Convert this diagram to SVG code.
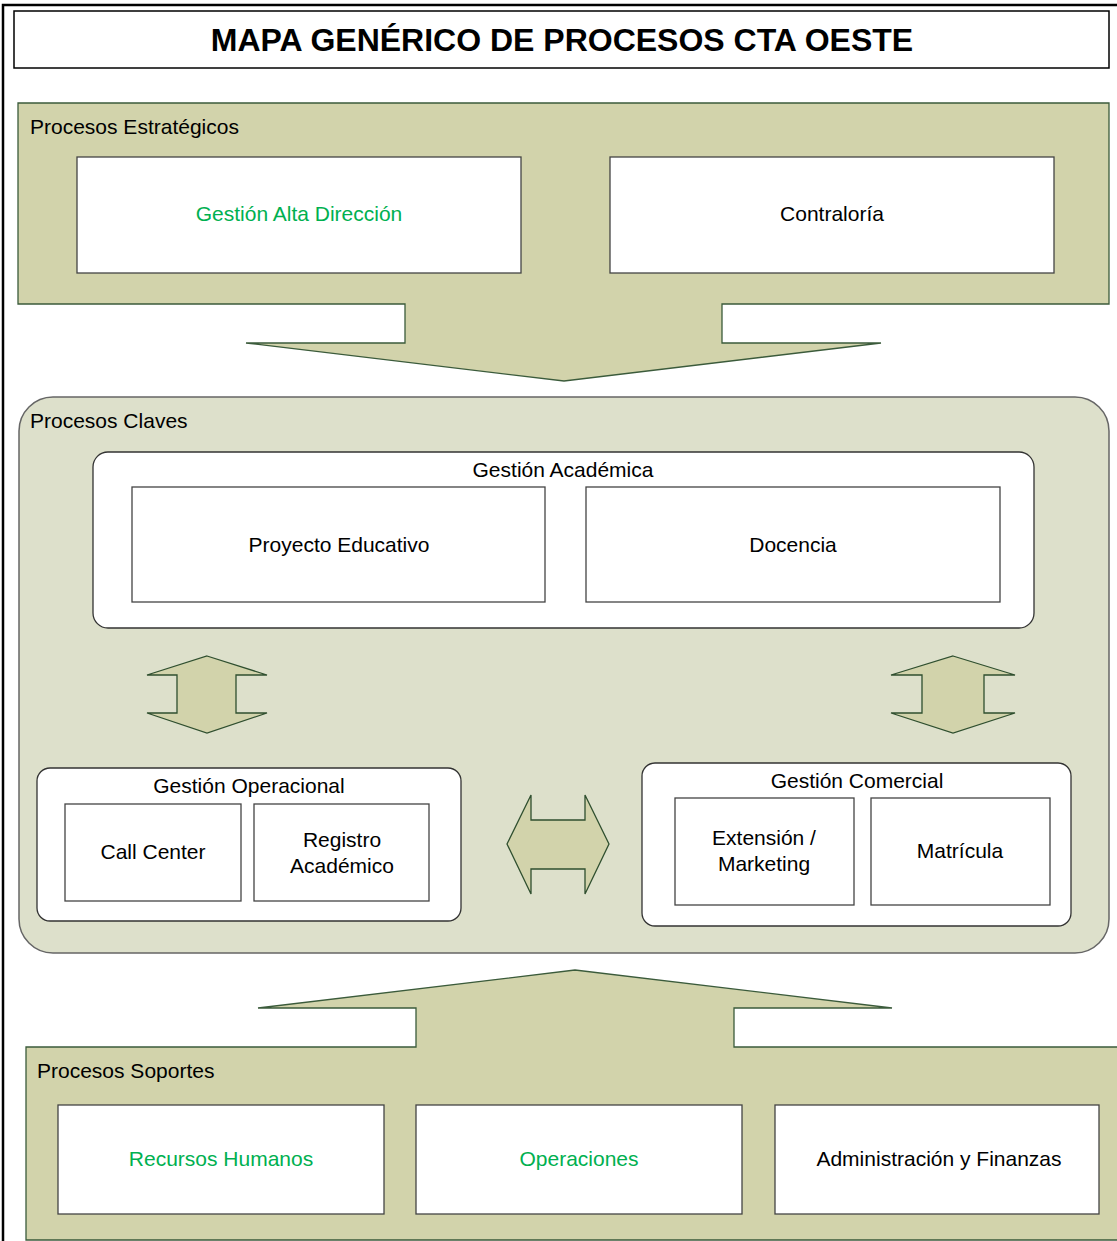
<svg xmlns="http://www.w3.org/2000/svg" width="1117" height="1241" viewBox="0 0 1117 1241">
<style>
text{font-family:"Liberation Sans",Arial,sans-serif;font-size:21px;fill:#000}
.c{text-anchor:middle}
.g{fill:#00B050}
.title{font-size:32px;font-weight:bold}
.band{fill:#D2D3AB;stroke:#3B5B3B;stroke-width:1.3}
.arr{fill:#D2D3AB;stroke:#2F4F2F;stroke-width:1.3}
.box{fill:#fff;stroke:#444;stroke-width:1.3}
.grp{fill:#fff;stroke:#333;stroke-width:1.3}
</style>
<rect x="0" y="0" width="1117" height="1241" fill="#fff"/>
<rect x="3" y="5" width="1125" height="1250" fill="none" stroke="#000" stroke-width="2.5"/>
<g id="title">
<rect x="14" y="11" width="1095" height="57" fill="#fff" stroke="#000" stroke-width="1.5"/>
<text class="c title" x="562" y="51">MAPA GENÉRICO DE PROCESOS CTA OESTE</text>
</g>
<g id="estrategicos">
<path class="band" d="M18,103 H1109 V304 H722 V343 H881 L564,381 L246,343 H405 V304 H18 Z"/>
<text x="30" y="134">Procesos Estratégicos</text>
</g>
<g id="alta-direccion">
<rect class="box" x="77" y="157" width="444" height="116"/>
<text class="c g" x="299" y="221">Gestión Alta Dirección</text>
</g>
<g id="contraloria">
<rect class="box" x="610" y="157" width="444" height="116"/>
<text class="c" x="832" y="221">Contraloría</text>
</g>
<g id="claves">
<rect x="19" y="397" width="1090" height="556" rx="34" ry="34" fill="#DDE0CB" stroke="#666" stroke-width="1.5"/>
<text x="30" y="428">Procesos Claves</text>
</g>
<g id="gestion-academica">
<rect class="grp" x="93" y="452" width="941" height="176" rx="15" ry="15"/>
<text class="c" x="563" y="477">Gestión Académica</text>
</g>
<g id="proyecto-educativo">
<rect class="box" x="132" y="487" width="413" height="115"/>
<text class="c" x="339" y="552">Proyecto Educativo</text>
</g>
<g id="docencia">
<rect class="box" x="586" y="487" width="414" height="115"/>
<text class="c" x="793" y="552">Docencia</text>
</g>
<g id="gestion-operacional">
<rect class="grp" x="37" y="768" width="424" height="153" rx="13" ry="13"/>
<text class="c" x="249" y="793">Gestión Operacional</text>
</g>
<g id="call-center">
<rect class="box" x="65" y="804" width="176" height="97"/>
<text class="c" x="153" y="859">Call Center</text>
</g>
<g id="registro-academico">
<rect class="box" x="254" y="804" width="175" height="97"/>
<text class="c" x="342" y="847">Registro</text>
<text class="c" x="342" y="873">Académico</text>
</g>
<g id="gestion-comercial">
<rect class="grp" x="642" y="763" width="429" height="163" rx="13" ry="13"/>
<text class="c" x="857" y="788">Gestión Comercial</text>
</g>
<g id="extension-marketing">
<rect class="box" x="675" y="798" width="179" height="107"/>
<text class="c" x="764" y="845">Extensión /</text>
<text class="c" x="764" y="871">Marketing</text>
</g>
<g id="matricula">
<rect class="box" x="871" y="798" width="179" height="107"/>
<text class="c" x="960" y="858">Matrícula</text>
</g>
<g id="soportes">
<path class="band" d="M26,1047 H416 V1008 H258 L575,970 L892,1008 H734 V1047 H1125 V1240 H26 Z"/>
<text x="37" y="1078">Procesos Soportes</text>
</g>
<g id="recursos-humanos">
<rect class="box" x="58" y="1105" width="326" height="109"/>
<text class="c g" x="221" y="1166">Recursos Humanos</text>
</g>
<g id="operaciones">
<rect class="box" x="416" y="1105" width="326" height="109"/>
<text class="c g" x="579" y="1166">Operaciones</text>
</g>
<g id="administracion">
<rect class="box" x="775" y="1105" width="324" height="109"/>
<text class="c" x="939" y="1166">Administración y Finanzas</text>
</g>
<g id="connectors">
<path class="arr" d="M207,656 L267,675 H236 V713 H267 L207,733 L147,713 H177 V675 H147 Z"/>
<path class="arr" d="M953,656 L1015,675 H984 V713 H1015 L953,733 L891,713 H922 V675 H891 Z"/>
<path class="arr" d="M507,844 L531,795 V820 H585 V795 L609,844 L585,894 V869 H531 V894 Z"/>
</g>
</svg>
